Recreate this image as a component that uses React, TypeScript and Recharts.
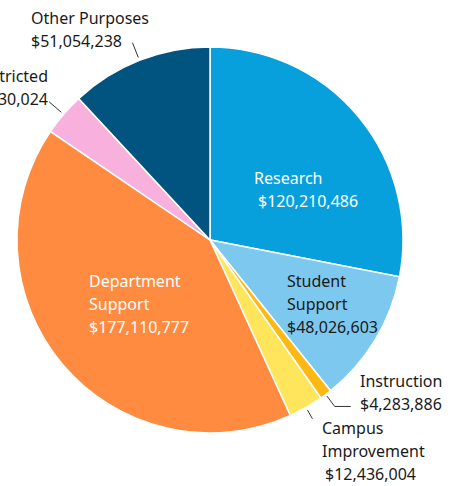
import { Pie, PieChart, Cell } from 'recharts'

const categories = [
  'Research',
  'Student Support',
  'Instruction',
  'Campus Improvement',
  'Department Support',
  'Unrestricted',
  'Other Purposes',
]
const amounts = [120210486, 48026603, 4283886, 12436004, 177110777, 15330024, 51054238]
const colors = ['#089fdd', '#7dc8ee', '#fdb913', '#ffe55c', '#ff8b40', '#f8b1dd', '#015480']

// label lines as shown on the chart
const labelLines = [
  ['Research', '$120,210,486'],
  ['Student', 'Support', '$48,026,603'],
  ['Instruction', '$4,283,886'],
  ['Campus', 'Improvement', '$12,436,004'],
  ['Department', 'Support', '$177,110,777'],
  ['Unrestricted', '$15,330,024'],
  ['Other Purposes', '$51,054,238'],
]

const data = categories.map((name, i) => ({ name, value: amounts[i] }))

// placement of each label relative to the pie centre
const layout = [
  { dx: 44, dy: -56, color: '#ffffff', shift: [0, 4] },
  { dx: 77, dy: 47, color: '#1a1a1a' },
  { dx: 150, dy: 147, color: '#1a1a1a', leader: [195, 208], elbow: 16 },
  { dx: 112, dy: 194, color: '#1a1a1a', shift: [0, 0, 3], leader: [196, 206] },
  { dx: -121, dy: 47, color: '#ffffff' },
  { dx: -162, dy: -158, color: '#1a1a1a', anchor: 'end', leader: [196, 212] },
  { dx: -179, dy: -216, color: '#1a1a1a', leader: [196, 212] },
]

const RAD = Math.PI / 180

function renderLabel(props: any) {
  const { cx, cy, midAngle, index } = props
  const cfg: any = layout[index]
  const lines = labelLines[index]
  const x = cx + cfg.dx
  const y = cy + cfg.dy
  let leader = null
  if (cfg.leader) {
    const [r1, r2] = cfg.leader
    const cos = Math.cos(-midAngle * RAD)
    const sin = Math.sin(-midAngle * RAD)
    const pts = [
      [cx + r1 * cos, cy + r1 * sin],
      [cx + r2 * cos, cy + r2 * sin],
    ]
    if (cfg.elbow) pts.push([pts[1][0] + cfg.elbow, pts[1][1]])
    leader = (
      <polyline
        points={pts.map((p) => p.join(',')).join(' ')}
        fill='none'
        stroke='#333'
        strokeWidth={1}
      />
    )
  }
  return (
    <g key={`lbl-${index}`}>
      {leader}
      <text
        x={x}
        y={y}
        fill={cfg.color}
        textAnchor={cfg.anchor || 'start'}
        fontSize={16}
        fontFamily='"Noto Sans", sans-serif'
      >
        {lines.map((line, j) => (
          <tspan key={j} x={x + ((cfg.shift && cfg.shift[j]) || 0)} y={y + j * 23}>
            {line}
          </tspan>
        ))}
      </text>
    </g>
  )
}

export default function App() {
  return (
    <div
      style={{
        position: 'fixed',
        left: 0,
        top: 0,
        width: 456,
        height: 486,
        overflow: 'hidden',
        background: '#fff',
      }}
    >
      <PieChart width={456} height={486} margin={{ top: 0, right: 0, bottom: 0, left: 0 }}>
        <Pie
          data={data}
          dataKey='value'
          nameKey='name'
          cx={210}
          cy={240}
          outerRadius={193}
          startAngle={90}
          endAngle={-270}
          stroke='#ffffff'
          strokeWidth={1.5}
          label={renderLabel}
          labelLine={false}
          isAnimationActive={false}
        >
          {data.map((d, i) => (
            <Cell key={d.name} fill={colors[i]} />
          ))}
        </Pie>
      </PieChart>
    </div>
  )
}
